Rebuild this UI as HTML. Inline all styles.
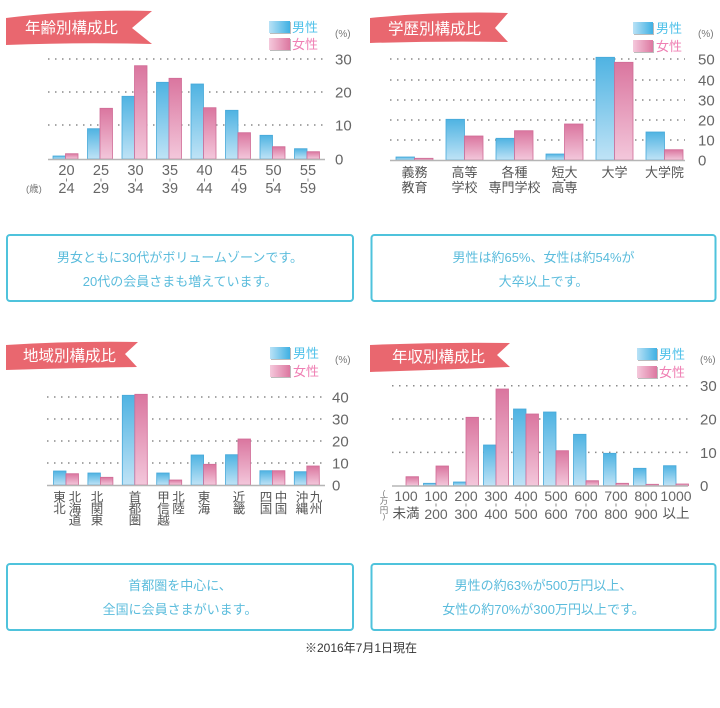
<!DOCTYPE html>
<html><head><meta charset="utf-8">
<style>
html,body{margin:0;padding:0;background:#fff;}
svg{display:block;}
text{font-family:"Liberation Sans","Noto Sans CJK JP",sans-serif;}
.t{fill:#fff;font-size:15.5px;}
.lm{fill:#4fc1e9;font-size:13px;}
.lf{fill:#ef7fb3;font-size:13px;}
.pc{fill:#777;font-size:10px;}
.y{fill:#666;font-size:15px;}
.xn{fill:#666;font-size:14.5px;text-anchor:middle;}
.xn4{fill:#666;font-size:14px;text-anchor:middle;}
.xj{fill:#555;font-size:13px;text-anchor:middle;}
.xv{fill:#555;font-size:12.5px;text-anchor:middle;}
.bx{fill:#5bbcdc;font-size:13px;text-anchor:middle;}
.g{stroke:#8a8a8a;stroke-width:1.5;stroke-dasharray:1.5 5.5;}
.b{stroke:#b5b5b5;stroke-width:1.5;}
.tk{stroke:#888;stroke-width:1;}
.m{fill:url(#gm);stroke:#47a9d9;stroke-width:0.8;}
.f{fill:url(#gf);stroke:#d06c97;stroke-width:0.8;}
.box{fill:none;stroke:#4fc3dc;stroke-width:2;}
</style></head>
<body>
<svg width="720" height="708" viewBox="0 0 720 708" xmlns="http://www.w3.org/2000/svg">
<defs>
<linearGradient id="gm" x1="0" y1="0" x2="0" y2="1"><stop offset="0" stop-color="#4fb3e2"/><stop offset="1" stop-color="#bfe3f6"/></linearGradient>
<linearGradient id="gf" x1="0" y1="0" x2="0" y2="1"><stop offset="0" stop-color="#da769f"/><stop offset="1" stop-color="#f3c7db"/></linearGradient>
<linearGradient id="lgm" x1="0" y1="0" x2="1" y2="0"><stop offset="0" stop-color="#b9e2f6"/><stop offset="1" stop-color="#3fb0e3"/></linearGradient>
<linearGradient id="lgf" x1="0" y1="0" x2="1" y2="0"><stop offset="0" stop-color="#f5c9dc"/><stop offset="1" stop-color="#dc77a0"/></linearGradient>
</defs>
<rect width="720" height="708" fill="#fff"/>

<!-- ============ Chart 1 ============ -->
<path d="M6,18 Q80,9 152,11 L132,28 L152,44 Q80,42 6,45 Z" fill="#e9676f"/>
<text class="t" x="25" y="33">年齢別構成比</text>
<rect x="270" y="22" width="21" height="12" fill="#bbb"/>
<rect x="269" y="21" width="21" height="12" fill="url(#lgm)"/>
<text class="lm" x="292" y="32">男性</text>
<rect x="270" y="39" width="21" height="12" fill="#bbb"/>
<rect x="269" y="38" width="21" height="12" fill="url(#lgf)"/>
<text class="lf" x="292" y="49">女性</text>
<text class="pc" x="335" y="37">(%)</text>
<line class="g" x1="48" y1="59" x2="325" y2="59"/>
<line class="g" x1="48" y1="92" x2="325" y2="92"/>
<line class="g" x1="48" y1="125" x2="325" y2="125"/>
<text class="y" x="335" y="64.5">30</text>
<text class="y" x="335" y="97.5">20</text>
<text class="y" x="335" y="130.5">10</text>
<text class="y" x="335" y="164.5">0</text>
<rect class="m" x="53" y="156" width="12.5" height="3"/><rect class="f" x="65.5" y="153.7" width="12.5" height="5.3"/>
<rect class="m" x="87.5" y="128.7" width="12.5" height="30.3"/><rect class="f" x="100" y="108.3" width="12.5" height="50.7"/>
<rect class="m" x="122" y="96.3" width="12.5" height="62.7"/><rect class="f" x="134.5" y="65.7" width="12.5" height="93.3"/>
<rect class="m" x="156.5" y="82.3" width="12.5" height="76.7"/><rect class="f" x="169" y="78.3" width="12.5" height="80.7"/>
<rect class="m" x="191" y="84" width="12.5" height="75"/><rect class="f" x="203.5" y="107.7" width="12.5" height="51.3"/>
<rect class="m" x="225.5" y="110.3" width="12.5" height="48.7"/><rect class="f" x="238" y="132.7" width="12.5" height="26.3"/>
<rect class="m" x="260" y="135.3" width="12.5" height="23.7"/><rect class="f" x="272.5" y="146.7" width="12.5" height="12.3"/>
<rect class="m" x="294.5" y="148.7" width="12.5" height="10.3"/><rect class="f" x="307" y="151.7" width="12.5" height="7.3"/>
<line class="b" x1="48" y1="159.5" x2="325" y2="159.5"/>
<g>
<text class="xn" x="66.5" y="175">20</text><text class="xn" x="66.5" y="193">24</text>
<text class="xn" x="101" y="175">25</text><text class="xn" x="101" y="193">29</text>
<text class="xn" x="135.5" y="175">30</text><text class="xn" x="135.5" y="193">34</text>
<text class="xn" x="170" y="175">35</text><text class="xn" x="170" y="193">39</text>
<text class="xn" x="204.5" y="175">40</text><text class="xn" x="204.5" y="193">44</text>
<text class="xn" x="239" y="175">45</text><text class="xn" x="239" y="193">49</text>
<text class="xn" x="273.5" y="175">50</text><text class="xn" x="273.5" y="193">54</text>
<text class="xn" x="308" y="175">55</text><text class="xn" x="308" y="193">59</text>
</g>
<g class="tk">
<line x1="66.5" y1="178.5" x2="66.5" y2="181.5"/><line x1="101" y1="178.5" x2="101" y2="181.5"/>
<line x1="135.5" y1="178.5" x2="135.5" y2="181.5"/><line x1="170" y1="178.5" x2="170" y2="181.5"/>
<line x1="204.5" y1="178.5" x2="204.5" y2="181.5"/><line x1="239" y1="178.5" x2="239" y2="181.5"/>
<line x1="273.5" y1="178.5" x2="273.5" y2="181.5"/><line x1="308" y1="178.5" x2="308" y2="181.5"/>
</g>
<text class="pc" x="26" y="192" style="font-size:9.5px">(歳)</text>

<!-- ============ Chart 2 ============ -->
<path d="M370,18 Q440,11 508,13 L495,28 L508,42 Q440,41 370,43 Z" fill="#e9676f"/>
<text class="t" x="388" y="34">学歴別構成比</text>
<rect x="634" y="23" width="20" height="12" fill="#bbb"/>
<rect x="633" y="22" width="20" height="12" fill="url(#lgm)"/>
<text class="lm" x="656" y="33">男性</text>
<rect x="634" y="41" width="20" height="12" fill="#bbb"/>
<rect x="633" y="40" width="20" height="12" fill="url(#lgf)"/>
<text class="lf" x="656" y="51">女性</text>
<text class="pc" x="698" y="37">(%)</text>
<line class="g" x1="390" y1="59" x2="685" y2="59"/>
<line class="g" x1="390" y1="80" x2="685" y2="80"/>
<line class="g" x1="390" y1="100" x2="685" y2="100"/>
<line class="g" x1="390" y1="120" x2="685" y2="120"/>
<line class="g" x1="390" y1="140" x2="685" y2="140"/>
<text class="y" x="698" y="64.5">50</text>
<text class="y" x="698" y="85.5">40</text>
<text class="y" x="698" y="105.5">30</text>
<text class="y" x="698" y="125.5">20</text>
<text class="y" x="698" y="145.5">10</text>
<text class="y" x="698" y="165.5">0</text>
<rect class="m" x="396" y="157" width="18.5" height="3"/><rect class="f" x="414.5" y="158.3" width="18.5" height="1.7"/>
<rect class="m" x="446" y="119.3" width="18.5" height="40.7"/><rect class="f" x="464.5" y="136" width="18.5" height="24"/>
<rect class="m" x="496" y="138.3" width="18.5" height="21.7"/><rect class="f" x="514.5" y="130.7" width="18.5" height="29.3"/>
<rect class="m" x="546" y="154" width="18.5" height="6"/><rect class="f" x="564.5" y="124" width="18.5" height="36"/>
<rect class="m" x="596" y="57.3" width="18.5" height="102.7"/><rect class="f" x="614.5" y="62.3" width="18.5" height="97.7"/>
<rect class="m" x="646" y="132" width="18.5" height="28"/><rect class="f" x="664.5" y="149.7" width="18.5" height="10.3"/>
<line class="b" x1="390" y1="160.5" x2="685" y2="160.5"/>
<text class="xj" x="414.5" y="177">義務</text><text class="xj" x="414.5" y="192">教育</text>
<text class="xj" x="464.5" y="177">高等</text><text class="xj" x="464.5" y="192">学校</text>
<text class="xj" x="514.5" y="177">各種</text><text class="xj" x="514.5" y="192">専門学校</text>
<text class="xj" x="564.5" y="177">短大</text><text class="xj" x="564.5" y="192">高専</text>
<circle cx="564.5" cy="180" r="1" fill="#555"/>
<text class="xj" x="614.5" y="177">大学</text>
<text class="xj" x="664.5" y="177">大学院</text>

<!-- ============ Box row 1 ============ -->
<rect class="box" x="7" y="235" width="346" height="66" rx="3"/>
<text class="bx" x="180" y="262">男女ともに30代がボリュームゾーンです。</text>
<text class="bx" x="180" y="286">20代の会員さまも増えています。</text>
<rect class="box" x="371.5" y="235" width="344" height="66" rx="3"/>
<text class="bx" x="543.5" y="262">男性は約65%、女性は約54%が</text>
<text class="bx" x="543.5" y="286">大卒以上です。</text>

<!-- ============ Chart 3 ============ -->
<path d="M6,345 Q70,341 138,342 L125,354 L137,367 Q70,368 6,370 Z" fill="#e9676f"/>
<text class="t" x="23" y="361">地域別構成比</text>
<rect x="271" y="348" width="20" height="12" fill="#bbb"/>
<rect x="270" y="347" width="20" height="12" fill="url(#lgm)"/>
<text class="lm" x="293" y="358">男性</text>
<rect x="271" y="366" width="20" height="12" fill="#bbb"/>
<rect x="270" y="365" width="20" height="12" fill="url(#lgf)"/>
<text class="lf" x="293" y="376">女性</text>
<text class="pc" x="335" y="363">(%)</text>
<line class="g" x1="47" y1="397" x2="325" y2="397"/>
<line class="g" x1="47" y1="419" x2="325" y2="419"/>
<line class="g" x1="47" y1="441" x2="325" y2="441"/>
<line class="g" x1="47" y1="463" x2="325" y2="463"/>
<text class="y" x="332" y="402.5">40</text>
<text class="y" x="332" y="424.5">30</text>
<text class="y" x="332" y="446.5">20</text>
<text class="y" x="332" y="468.5">10</text>
<text class="y" x="332" y="490.5">0</text>
<rect class="m" x="53.5" y="471" width="12.5" height="14"/><rect class="f" x="66" y="473.7" width="12.5" height="11.3"/>
<rect class="m" x="87.9" y="473" width="12.5" height="12"/><rect class="f" x="100.4" y="477.3" width="12.5" height="7.7"/>
<rect class="m" x="122.3" y="395.3" width="12.5" height="89.7"/><rect class="f" x="134.8" y="394.3" width="12.5" height="90.7"/>
<rect class="m" x="156.7" y="473" width="12.5" height="12"/><rect class="f" x="169.2" y="480" width="12.5" height="5"/>
<rect class="m" x="191.1" y="455" width="12.5" height="30"/><rect class="f" x="203.6" y="464.3" width="12.5" height="20.7"/>
<rect class="m" x="225.5" y="454.7" width="12.5" height="30.3"/><rect class="f" x="238" y="439" width="12.5" height="46"/>
<rect class="m" x="259.9" y="470.7" width="12.5" height="14.3"/><rect class="f" x="272.4" y="470.7" width="12.5" height="14.3"/>
<rect class="m" x="294.3" y="471.7" width="12.5" height="13.3"/><rect class="f" x="306.8" y="466" width="12.5" height="19"/>
<line class="b" x1="47" y1="485.5" x2="325" y2="485.5"/>
<g>
<text class="xv" x="59.5" y="501.5">東</text><text class="xv" x="59.5" y="513">北</text>
<text class="xv" x="75" y="501.5">北</text><text class="xv" x="75" y="513">海</text><text class="xv" x="75" y="524.5">道</text>
<text class="xv" x="97" y="501.5">北</text><text class="xv" x="97" y="513">関</text><text class="xv" x="97" y="524.5">東</text>
<text class="xv" x="135" y="501.5">首</text><text class="xv" x="135" y="513">都</text><text class="xv" x="135" y="524.5">圏</text>
<text class="xv" x="163.5" y="501.5">甲</text><text class="xv" x="163.5" y="513">信</text><text class="xv" x="163.5" y="524.5">越</text>
<text class="xv" x="178.5" y="501.5">北</text><text class="xv" x="178.5" y="513">陸</text>
<text class="xv" x="204" y="501.5">東</text><text class="xv" x="204" y="513">海</text>
<text class="xv" x="239" y="501.5">近</text><text class="xv" x="239" y="513">畿</text>
<text class="xv" x="266" y="501.5">四</text><text class="xv" x="266" y="513">国</text>
<text class="xv" x="281" y="501.5">中</text><text class="xv" x="281" y="513">国</text>
<text class="xv" x="302" y="501.5">沖</text><text class="xv" x="302" y="513">縄</text>
<text class="xv" x="316" y="501.5">九</text><text class="xv" x="316" y="513">州</text>
</g>

<!-- ============ Chart 4 ============ -->
<path d="M370,345 Q440,342 510,343 L497,355 L510,367 Q440,370 370,372 Z" fill="#e9676f"/>
<text class="t" x="392" y="362">年収別構成比</text>
<rect x="638" y="349" width="20" height="12" fill="#bbb"/>
<rect x="637" y="348" width="20" height="12" fill="url(#lgm)"/>
<text class="lm" x="659" y="359">男性</text>
<rect x="638" y="367" width="20" height="12" fill="#bbb"/>
<rect x="637" y="366" width="20" height="12" fill="url(#lgf)"/>
<text class="lf" x="659" y="377">女性</text>
<text class="pc" x="700" y="363">(%)</text>
<line class="g" x1="392" y1="385.7" x2="688" y2="385.7"/>
<line class="g" x1="392" y1="419" x2="688" y2="419"/>
<line class="g" x1="392" y1="452.4" x2="688" y2="452.4"/>
<text class="y" x="700" y="391">30</text>
<text class="y" x="700" y="424.5">20</text>
<text class="y" x="700" y="458">10</text>
<text class="y" x="700" y="491">0</text>
<rect class="f" x="406" y="476.7" width="12.5" height="9"/>
<rect class="m" x="423.5" y="483.3" width="12.5" height="2.4"/><rect class="f" x="436" y="466" width="12.5" height="19.7"/>
<rect class="m" x="453.5" y="482" width="12.5" height="3.7"/><rect class="f" x="466" y="417.3" width="12.5" height="68.4"/>
<rect class="m" x="483.5" y="445" width="12.5" height="40.7"/><rect class="f" x="496" y="389" width="12.5" height="96.7"/>
<rect class="m" x="513.5" y="409" width="12.5" height="76.7"/><rect class="f" x="526" y="414" width="12.5" height="71.7"/>
<rect class="m" x="543.5" y="412" width="12.5" height="73.7"/><rect class="f" x="556" y="450.7" width="12.5" height="35"/>
<rect class="m" x="573.5" y="434.3" width="12.5" height="51.4"/><rect class="f" x="586" y="480.7" width="12.5" height="5"/>
<rect class="m" x="603.5" y="453.3" width="12.5" height="32.4"/><rect class="f" x="616" y="483.3" width="12.5" height="2.4"/>
<rect class="m" x="633.5" y="468.3" width="12.5" height="17.4"/><rect class="f" x="646" y="484.3" width="12.5" height="1.4"/>
<rect class="m" x="663.5" y="465.7" width="12.5" height="20"/><rect class="f" x="676" y="484" width="12.5" height="1.7"/>
<line class="b" x1="392" y1="486" x2="688" y2="486"/>
<g>
<text class="xn4" x="406" y="501">100</text><text class="xj" x="406" y="518" style="font-size:13.5px">未満</text>
<text class="xn4" x="436" y="501">100</text><text class="xn4" x="436" y="519">200</text>
<text class="xn4" x="466" y="501">200</text><text class="xn4" x="466" y="519">300</text>
<text class="xn4" x="496" y="501">300</text><text class="xn4" x="496" y="519">400</text>
<text class="xn4" x="526" y="501">400</text><text class="xn4" x="526" y="519">500</text>
<text class="xn4" x="556" y="501">500</text><text class="xn4" x="556" y="519">600</text>
<text class="xn4" x="586" y="501">600</text><text class="xn4" x="586" y="519">700</text>
<text class="xn4" x="616" y="501">700</text><text class="xn4" x="616" y="519">800</text>
<text class="xn4" x="646" y="501">800</text><text class="xn4" x="646" y="519">900</text>
<text class="xn4" x="676" y="501">1000</text><text class="xj" x="676" y="518" style="font-size:13.5px">以上</text>
</g>
<g class="tk">
<line x1="436" y1="503.5" x2="436" y2="506.5"/><line x1="466" y1="503.5" x2="466" y2="506.5"/>
<line x1="496" y1="503.5" x2="496" y2="506.5"/><line x1="526" y1="503.5" x2="526" y2="506.5"/>
<line x1="556" y1="503.5" x2="556" y2="506.5"/><line x1="586" y1="503.5" x2="586" y2="506.5"/>
<line x1="616" y1="503.5" x2="616" y2="506.5"/><line x1="646" y1="503.5" x2="646" y2="506.5"/>
</g>
<text class="pc" x="384" y="496" style="font-size:8px;text-anchor:middle">(</text>
<text class="pc" x="384" y="504" style="font-size:8.5px;text-anchor:middle">万</text>
<text class="pc" x="384" y="513" style="font-size:8.5px;text-anchor:middle">円</text>
<text class="pc" x="384" y="519" style="font-size:8px;text-anchor:middle">)</text>

<!-- ============ Box row 2 ============ -->
<rect class="box" x="7" y="564" width="346" height="66" rx="3"/>
<text class="bx" x="180" y="590">首都圏を中心に、</text>
<text class="bx" x="180" y="614">全国に会員さまがいます。</text>
<rect class="box" x="371.5" y="564" width="344" height="66" rx="3"/>
<text class="bx" x="543.5" y="590">男性の約63%が500万円以上、</text>
<text class="bx" x="543.5" y="614">女性の約70%が300万円以上です。</text>

<text x="361" y="652" style="fill:#333;font-size:12px;text-anchor:middle">※2016年7月1日現在</text>
</svg>
</body></html>
